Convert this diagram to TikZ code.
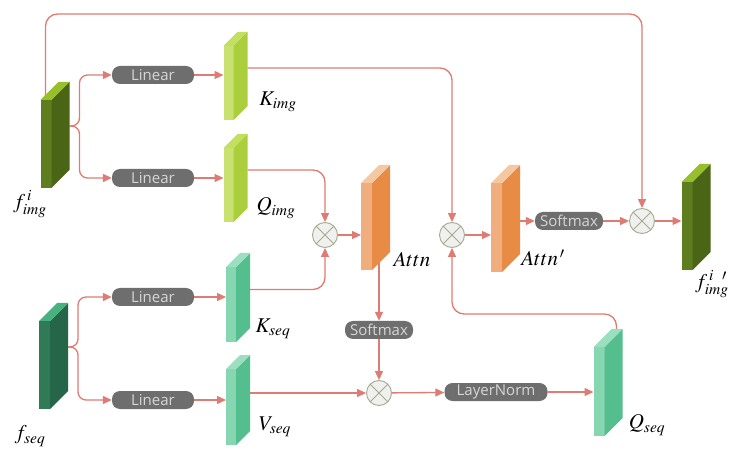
\documentclass[tikz,border=0pt]{standalone}
\usepackage{mathptmx}
\usepackage[no-math]{fontspec}
\newfontfamily\opfont{Open Sans}
\usetikzlibrary{arrows.meta,backgrounds}

\definecolor{lineclr}{HTML}{E07B73}
\definecolor{opfill}{HTML}{6E6E6E}
\definecolor{optext}{HTML}{D6D6D6}
\definecolor{otfill}{HTML}{F0F0EE}
\definecolor{otline}{HTML}{A3AB90}
\definecolor{darkfront}{HTML}{5E7D1F}
\definecolor{darkside}{HTML}{4B6516}
\definecolor{darktop}{HTML}{97BF2C}
\definecolor{limefront}{HTML}{C9E26F}
\definecolor{limeside}{HTML}{ABCE3C}
\definecolor{limetop}{HTML}{C2DF60}
\definecolor{mintfront}{HTML}{86D6B2}
\definecolor{mintside}{HTML}{55BE8F}
\definecolor{minttop}{HTML}{9ADFC0}
\definecolor{deepfront}{HTML}{2F7B57}
\definecolor{deepside}{HTML}{256649}
\definecolor{deeptop}{HTML}{48B27F}
\definecolor{orngfront}{HTML}{F0AE7E}
\definecolor{orngside}{HTML}{E78B45}
\definecolor{orngtop}{HTML}{F5C8A2}

% slab: name, centre, front width, depth, height, colour prefix
\newcommand{\slab}[6]{%
  \node[minimum width={#3+#4}, minimum height=#5, inner sep=0pt, outer sep=0pt] (#1) at (#2) {};
  \fill[#6front] (#1.south west) rectangle ([xshift=#3,yshift=-#4]#1.north west);
  \fill[#6side] ([xshift=#3]#1.south west) -- ([yshift=#4]#1.south east) -- (#1.north east)
    -- ([xshift=#3,yshift=-#4]#1.north west) -- cycle;
  \fill[#6top] ([yshift=-#4]#1.north west) -- ([xshift=#3,yshift=-#4]#1.north west)
    -- (#1.north east) -- ([xshift=-#3]#1.north east) -- cycle;
}

\tikzset{
  conn/.style={draw=lineclr, line width=1.3pt, -{Triangle[length=9pt,width=8pt]}},
  op/.style={fill=opfill, text=optext, font=\opfont\fontsize{15}{17}\selectfont,
    rounded corners=8pt, minimum height=18pt, inner sep=0pt},
  otimes/.style={circle, minimum size=25pt, inner sep=0pt, draw=otline, fill=otfill,
    line width=0.9pt, path picture={
      \draw[otline, line width=0.9pt]
        (path picture bounding box.north west) -- (path picture bounding box.south east)
        (path picture bounding box.north east) -- (path picture bounding box.south west);}},
  lbl/.style={font=\fontsize{21}{25}\selectfont, inner sep=0pt},
}

\begin{document}
\begin{tikzpicture}[x=1pt,y=-1pt]

  \useasboundingbox (0,0) rectangle (747,454);

  % feature slabs
  \slab{fimg}{55,135}{11pt}{18pt}{106pt}{dark}
  \slab{kimg}{235.5,76}{10pt}{14pt}{88pt}{lime}
  \slab{qimg}{235.5,178}{10pt}{14pt}{88pt}{lime}
  \slab{fseq}{53.5,356}{11pt}{18pt}{106pt}{deep}
  \slab{kseq}{238,297.5}{10pt}{14pt}{89pt}{mint}
  \slab{vseq}{238,400}{10pt}{14pt}{90pt}{mint}
  \slab{attn}{375.5,217.5}{11pt}{18pt}{105pt}{orng}
  \slab{attnp}{505.5,218.5}{11pt}{18pt}{107pt}{orng}
  \slab{fout}{696,217}{11pt}{18pt}{106pt}{dark}
  \slab{qseq}{608,382.5}{11pt}{18pt}{107pt}{mint}

  % labels
  \node[lbl] (fimgl) at (30,204) {$f_{img}^{\,i}$};
  \node[lbl] (kimgl) at (278,102) {$K_{img}$};
  \node[lbl] (qimgl) at (276,208) {$Q_{img}$};
  \node[lbl] (fseql) at (30,436) {$f_{seq}$};
  \node[lbl] (kseql) at (273,329) {$K_{seq}$};
  \node[lbl] (vseql) at (275,427) {$V_{seq}$};
  \node[lbl] (attnl) at (412,260) {$Attn$};
  \node[lbl] (attnpl) at (543,258) {$Attn^{\,\prime}$};
  \node[lbl] (foutl) at (712,284) {$f_{img}^{\,i\;\;\,\prime}$};
  \node[lbl] (qseql) at (647,425) {$Q_{seq}$};

  % operators
  \node[op, minimum width=82pt] (lin1) at (153,75) {Linear};
  \node[op, minimum width=82pt] (lin2) at (153,178) {Linear};
  \node[op, minimum width=82pt] (lin3) at (153,297) {Linear};
  \node[op, minimum width=82pt] (lin4) at (153,400) {Linear};
  \node[op, minimum width=68pt] (sm1) at (569,221) {Softmax};
  \node[op, minimum width=68pt] (sm2) at (379,330) {Softmax};
  \node[op, minimum width=103pt] (ln) at (496,392) {LayerNorm};

  \node[otimes] (ot1) at (325,235) {};
  \node[otimes] (ot2) at (452,235) {};
  \node[otimes] (ot3) at (642,221) {};
  \node[otimes] (ot4) at (379,393) {};

  \coordinate (topy) at (0,14);
  \coordinate (backy) at (0,314);

  \begin{scope}[on background layer]
    \fill[white] (0,0) rectangle (747,454);
    % image branch
    \draw[conn, rounded corners=8pt] ([yshift=9pt]fimg.east) -- ++(10,0) |- (lin1);
    \draw[conn, rounded corners=8pt] ([yshift=9pt]fimg.east) -- ++(10,0) |- (lin2);
    \draw[conn] (lin1) -- (lin1 -| kimg.west);
    \draw[conn] (lin2) -- (lin2 -| qimg.west);
    \draw[conn, rounded corners=12pt] ([yshift=8pt]kimg.east) -| (ot2);
    \draw[conn, rounded corners=12pt] ([yshift=8pt]qimg.east) -| (ot1);
    \draw[conn, rounded corners=12pt] ([xshift=5pt,yshift=-20pt]fimg.north west) |- (ot3 |- topy) -- (ot3);

    % sequence branch
    \draw[conn, rounded corners=8pt] ([yshift=9pt]fseq.east) -- ++(10,0) |- (lin3);
    \draw[conn, rounded corners=8pt] ([yshift=9pt]fseq.east) -- ++(10,0) |- (lin4);
    \draw[conn] (lin3) -- (lin3 -| kseq.west);
    \draw[conn] (lin4) -- (lin4 -| vseq.west);
    \draw[conn, rounded corners=12pt] ([yshift=8pt]kseq.east) -| (ot1);

    % attention
    \draw[conn] (ot1) -- (ot1 -| attn.west);
    \draw[conn] ([yshift=8pt]sm2 |- attn.south) -- (sm2);
    \draw[conn] (sm2) -- (ot4);
    \draw[conn] (ot4 -| vseq.east) -- (ot4);
    \draw[conn] (ot4) -- (ln);
    \draw[conn] (ln) -- (ln -| qseq.west);
    \draw[conn, rounded corners=12pt] ([xshift=-6pt,yshift=-4pt]qseq.north east) |- (ot2 |- backy) -- (ot2);
    \draw[conn] (ot2) -- (ot2 -| attnp.west);
    \draw[conn] (sm1 -| attnp.east) -- (sm1);
    \draw[conn] (sm1) -- (ot3);
    \draw[conn] (ot3) -- (ot3 -| fout.west);
  \end{scope}

\end{tikzpicture}
\end{document}
